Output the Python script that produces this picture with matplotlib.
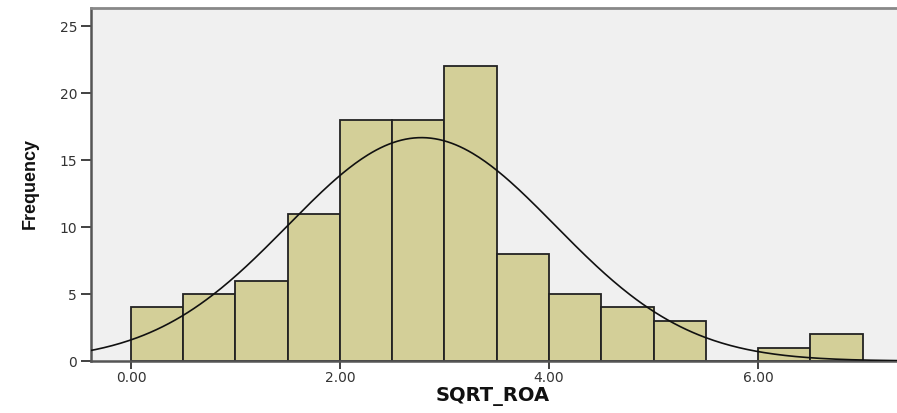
import numpy as np
import matplotlib
matplotlib.use("Agg")
import matplotlib.pyplot as plt

# histogram of SQRT_ROA, bins of width 0.5 starting at 0
bin_edges = [0.0, 0.5, 1.0, 1.5, 2.0, 2.5, 3.0, 3.5, 4.0, 4.5, 5.0, 5.5, 6.0, 6.5, 7.0]
counts = [4, 5, 6, 11, 18, 18, 22, 8, 5, 4, 3, 0, 1, 2]
# fitted normal curve
mean = 2.78
std_dev = 1.28
x_ticks = [0, 2, 4, 6]
x_tick_labels = ["0.00", "2.00", "4.00", "6.00"]
y_ticks = [0, 5, 10, 15, 20, 25]

fig = plt.figure(figsize=(8.97, 4.13), dpi=100)
ax = fig.add_axes([0.1014, 0.1259, 0.8986, 0.8547])
ax.set_facecolor("#f0f0f0")

widths = np.diff(bin_edges)
ax.bar(bin_edges[:-1], counts, width=widths, align="edge",
       color="#d3cf98", edgecolor="#222222", linewidth=1.3, zorder=2)

n = sum(counts)
bw = widths[0]
xs = np.linspace(-0.5, 7.5, 400)
ys = n * bw / (std_dev * np.sqrt(2 * np.pi)) * np.exp(-0.5 * ((xs - mean) / std_dev) ** 2)
ax.plot(xs, ys, color="#111111", linewidth=1.2, zorder=3)

ax.set_xlim(-0.383, 7.33)
ax.set_ylim(0, 26.35)

ax.set_xticks(x_ticks)
ax.set_xticklabels(x_tick_labels)
ax.set_yticks(y_ticks)
ax.tick_params(axis="both", labelsize=10, colors="#333333", width=1.3)
ax.tick_params(axis="y", length=7, pad=3)
ax.tick_params(axis="x", length=5.5, pad=2)

for side in ["left", "bottom"]:
    ax.spines[side].set_color("#555555")
    ax.spines[side].set_linewidth(1.8)
ax.spines["top"].set_color("#888888")
ax.spines["top"].set_linewidth(2)
ax.spines["right"].set_visible(False)

fig.text(0.5496, 0.039, "SQRT_ROA", fontsize=14, fontweight="bold",
         ha="center", va="center", color="#111111")
fig.text(0.0334, 0.555, "Frequency", fontsize=13, fontweight="bold", rotation=90,
         family=["Liberation Sans Narrow", "Liberation Sans"],
         ha="center", va="center", color="#111111")

plt.savefig("out.png", dpi=100)
